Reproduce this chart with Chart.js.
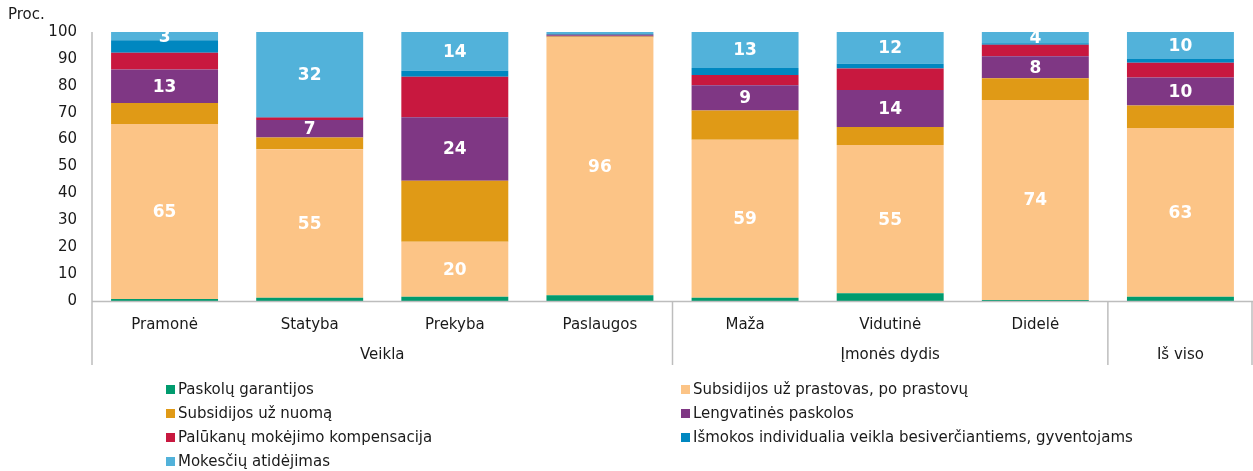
<!DOCTYPE html>
<html>
<head>
<meta charset="utf-8">
<script src="https://cdn.jsdelivr.net/npm/chart.js@4.4.1/dist/chart.umd.min.js"></script>
<style>
  html, body { margin: 0; padding: 0; background: #fff; }
  #wrap { position: relative; width: 1253px; height: 471px; font-family: "DejaVu Sans", Verdana, sans-serif; color: #1a1a1a; }
  #c { position: absolute; left: 0; top: 0; }
  #proc { position: absolute; left: 8px; top: 5px; font-size: 15px; }
  .lg { position: absolute; font-size: 15px; line-height: 18px; white-space: nowrap; }
  .lg i { display: inline-block; width: 9px; height: 9px; margin-right: 3px; vertical-align: 0px; }
</style>
</head>
<body>
<div id="wrap">
  <canvas id="c" width="1253" height="471"></canvas>
  <div id="proc">Proc.</div>
  <div id="legend"></div>
</div>
<script>
// ---- data ----
const categories = ['Pramonė', 'Statyba', 'Prekyba', 'Paslaugos', 'Maža', 'Vidutinė', 'Didelė', ''];
const groupLabels = ['Veikla', 'Įmonės dydis', 'Iš viso'];
const groupSizes = [4, 3, 1];

const paskoluGarantijos    = [0.7, 1.2, 1.6, 2.1, 1.2, 2.9, 0.4, 1.6];
const subsidijosPrastovos  = [65.1, 55.2, 20.4, 95.9, 58.7, 55.1, 74.3, 62.7];
const subsidijosNuoma      = [7.8, 4.4, 22.7, 0.3, 10.9, 6.7, 8.1, 8.4];
const lengvatinesPaskolos  = [12.5, 6.5, 23.6, 0.5, 9.4, 13.7, 8.2, 10.4];
const palukanuKompensacija = [6.2, 0.9, 15.1, 0.2, 3.8, 8.0, 4.3, 5.5];
const ismokosIndividualia  = [4.6, 0.2, 2.2, 0.3, 2.6, 1.8, 0.5, 1.4];
const mokesciuAtidejimas   = [3.1, 31.6, 14.4, 0.7, 13.4, 11.8, 4.2, 10.0];

const yTicks = [0, 10, 20, 30, 40, 50, 60, 70, 80, 90, 100];

const seriesNames = [
  'Paskolų garantijos',
  'Subsidijos už prastovas, po prastovų',
  'Subsidijos už nuomą',
  'Lengvatinės paskolos',
  'Palūkanų mokėjimo kompensacija',
  'Išmokos individualia veikla besiverčiantiems, gyventojams',
  'Mokesčių atidėjimas'
];
const seriesData = [paskoluGarantijos, subsidijosPrastovos, subsidijosNuoma, lengvatinesPaskolos,
  palukanuKompensacija, ismokosIndividualia, mokesciuAtidejimas];
const seriesColors = ['#009B6E', '#FCC486', '#E09A16', '#7F3784', '#C8183F', '#0087C0', '#52B2DA'];
const labelledSeries = [1, 3, 6];

const FONT = '"DejaVu Sans", Verdana, sans-serif';
const TXT = '#1a1a1a';
const LINE = '#bdbdbd';

// ---- plugins ----
const valueLabels = {
  id: 'valueLabels',
  afterDatasetsDraw(chart) {
    const ctx = chart.ctx;
    ctx.save();
    ctx.fillStyle = '#ffffff';
    ctx.font = 'bold 17px ' + FONT;
    ctx.textAlign = 'center';
    ctx.textBaseline = 'middle';
    chart.data.datasets.forEach((ds, di) => {
      if (!labelledSeries.includes(di)) return;
      const meta = chart.getDatasetMeta(di);
      meta.data.forEach((bar, i) => {
        const v = ds.data[i];
        if (v < 3) return;
        const cy = (bar.y + bar.base) / 2;
        ctx.fillText(String(Math.round(v)), bar.x, cy + 1);
      });
    });
    ctx.restore();
  }
};

const axisDecor = {
  id: 'axisDecor',
  afterDraw(chart) {
    const ctx = chart.ctx;
    const x = chart.scales.x, y = chart.scales.y;
    const area = chart.chartArea;
    const step = (x.getPixelForValue(1) - x.getPixelForValue(0));
    const bottom = 365;
    ctx.save();
    ctx.strokeStyle = LINE;
    ctx.lineWidth = 1.5;
    // x axis line
    ctx.beginPath();
    ctx.moveTo(area.left, y.getPixelForValue(0) + 0.5);
    ctx.lineTo(area.right, y.getPixelForValue(0) + 0.5);
    ctx.stroke();
    // left axis line
    ctx.beginPath();
    ctx.moveTo(area.left, y.getPixelForValue(100));
    ctx.lineTo(area.left, bottom);
    ctx.stroke();
    // group separators & labels
    ctx.fillStyle = TXT;
    ctx.font = '15px ' + FONT;
    ctx.textAlign = 'center';
    ctx.textBaseline = 'middle';
    let start = 0;
    groupSizes.forEach((n, gi) => {
      const x0 = x.getPixelForValue(start) - step / 2;
      const x1 = x.getPixelForValue(start + n - 1) + step / 2;
      const xe = Math.min(x1, chart.width - 1);
      ctx.beginPath();
      ctx.moveTo(xe, y.getPixelForValue(0));
      ctx.lineTo(xe, bottom);
      ctx.stroke();
      ctx.fillText(groupLabels[gi], (x0 + x1) / 2, 355);
      start += n;
    });
    ctx.restore();
  }
};

// ---- chart ----
new Chart(document.getElementById('c'), {
  type: 'bar',
  data: {
    labels: categories,
    datasets: seriesNames.map((name, i) => ({
      label: name,
      data: seriesData[i],
      backgroundColor: seriesColors[i],
      borderWidth: 0,
      categoryPercentage: 1,
      barPercentage: 0.737
    }))
  },
  options: {
    responsive: false,
    animation: false,
    devicePixelRatio: 1,
    layout: { padding: { top: 32, left: 0, right: 0, bottom: 0 } },
    plugins: { legend: { display: false }, tooltip: { enabled: false } },
    scales: {
      x: {
        stacked: true,
        grid: { display: false },
        border: { display: false },
        ticks: { color: TXT, font: { family: FONT, size: 15 }, padding: 7, autoSkip: false, maxRotation: 0 },
        afterFit(s) { s.height = 170; }
      },
      y: {
        stacked: true,
        min: 0, max: 100,
        grid: { display: false },
        border: { display: false },
        afterBuildTicks(s) { s.ticks = yTicks.map(v => ({ value: v })); },
        ticks: { color: TXT, font: { family: FONT, size: 15 }, padding: 7 },
        afterFit(s) { s.width = 92; }
      }
    }
  },
  plugins: [valueLabels, axisDecor]
});

// ---- legend (two columns) ----
const legend = document.getElementById('legend');
const colX = [166, 681];
const rowY = [380, 404, 428, 452];
seriesNames.forEach((name, i) => {
  const d = document.createElement('div');
  d.className = 'lg';
  d.style.left = colX[i % 2] + 'px';
  d.style.top = rowY[Math.floor(i / 2)] + 'px';
  d.innerHTML = '<i style="background:' + seriesColors[i] + '"></i>' + name;
  legend.appendChild(d);
});
</script>
</body>
</html>
